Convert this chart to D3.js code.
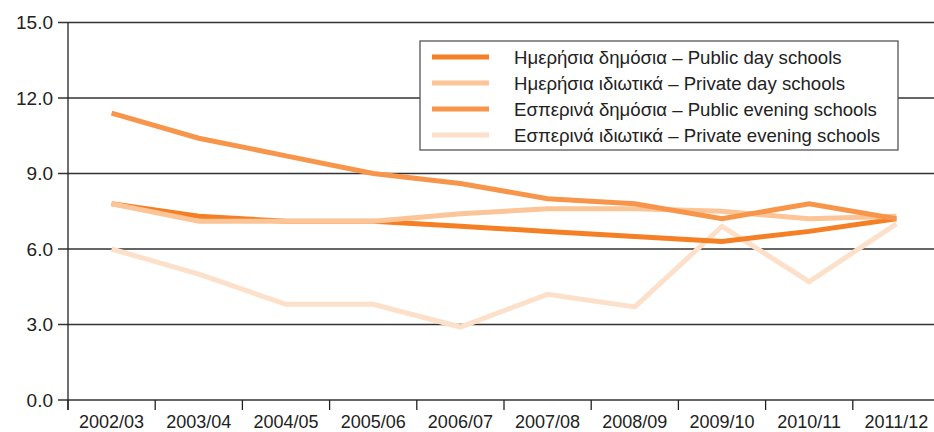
<!DOCTYPE html>
<html>
<head>
<meta charset="utf-8">
<script src="https://cdn.jsdelivr.net/npm/d3@7"></script>
<style>
  body { margin: 0; background: #fff; }
  svg text { font-family: "Liberation Sans", Arial, Helvetica, sans-serif; fill: #222; }
</style>
</head>
<body>
<div id="chart"></div>
<script>
const years = ["2002/03", "2003/04", "2004/05", "2005/06", "2006/07", "2007/08", "2008/09", "2009/10", "2010/11", "2011/12"];
const yTicks = [0, 3, 6, 9, 12, 15];

const publicDay = [7.8, 7.3, 7.1, 7.1, 6.9, 6.7, 6.5, 6.3, 6.7, 7.2];
const privateDay = [7.8, 7.1, 7.1, 7.1, 7.4, 7.6, 7.6, 7.5, 7.2, 7.3];
const publicEvening = [11.4, 10.4, 9.7, 9.0, 8.6, 8.0, 7.8, 7.2, 7.8, 7.2];
const privateEvening = [6.0, 5.0, 3.8, 3.8, 2.9, 4.2, 3.7, 6.9, 4.7, 7.0];

const seriesNames = [
  "Ημερήσια δημόσια – Public day schools",
  "Ημερήσια ιδιωτικά – Private day schools",
  "Εσπερινά δημόσια – Public evening schools",
  "Εσπερινά ιδιωτικά – Private evening schools"
];
const seriesColors = ["#f47f24", "#fbc597", "#f7954a", "#fde0c9"];

const width = 934, height = 432;
const margin = {top: 22.5, right: -6, bottom: 32, left: 68};

const svg = d3.select("#chart").append("svg")
  .attr("width", width)
  .attr("height", height);

const x = d3.scaleBand()
  .domain(years)
  .range([margin.left, width - margin.right]);

const y = d3.scaleLinear()
  .domain([0, 15])
  .range([height - margin.bottom, margin.top]);

// gridlines + y ticks
svg.append("g")
  .selectAll("line")
  .data(yTicks)
  .enter()
  .append("line")
  .attr("x1", margin.left - 10)
  .attr("x2", width)
  .attr("y1", d => y(d))
  .attr("y2", d => y(d))
  .attr("stroke", "#333")
  .attr("stroke-width", 1.3);

svg.append("g")
  .selectAll("text")
  .data(yTicks)
  .enter()
  .append("text")
  .attr("x", margin.left - 15)
  .attr("y", d => y(d))
  .attr("dy", "0.35em")
  .attr("text-anchor", "end")
  .style("font-size", "19px")
  .text(d => d.toFixed(1));

// y axis line
svg.append("line")
  .attr("x1", margin.left).attr("x2", margin.left)
  .attr("y1", y(15)).attr("y2", y(0) + 10)
  .attr("stroke", "#222")
  .attr("stroke-width", 1.3);

// x ticks at band edges
svg.append("g")
  .selectAll("line")
  .data(years)
  .enter()
  .append("line")
  .attr("x1", d => x(d)).attr("x2", d => x(d))
  .attr("y1", y(0)).attr("y2", y(0) + 10)
  .attr("stroke", "#222")
  .attr("stroke-width", 1.3);

svg.append("g")
  .selectAll("text")
  .data(years)
  .enter()
  .append("text")
  .attr("x", d => x(d) + x.bandwidth() / 2)
  .attr("y", y(0) + 28)
  .attr("text-anchor", "middle")
  .style("font-size", "18px")
  .text(d => d);

// lines
const allSeries = [publicDay, privateDay, publicEvening, privateEvening];
const drawOrder = [3, 0, 1, 2];

const line = d3.line()
  .x((d, i) => x(years[i]) + x.bandwidth() / 2)
  .y(d => y(d));

svg.append("g")
  .selectAll("path")
  .data(drawOrder)
  .enter()
  .append("path")
  .attr("d", k => line(allSeries[k]))
  .attr("fill", "none")
  .attr("stroke", k => seriesColors[k])
  .attr("stroke-width", 5);

// legend
const legend = svg.append("g").attr("transform", "translate(420,41)");
legend.append("rect")
  .attr("width", 478)
  .attr("height", 109)
  .attr("fill", "#fff")
  .attr("stroke", "#555")
  .attr("stroke-width", 1.3);

const item = legend.selectAll(".item")
  .data(seriesNames)
  .enter()
  .append("g")
  .attr("class", "item")
  .attr("transform", (d, i) => "translate(0," + (16 + i * 26) + ")");

item.append("line")
  .attr("x1", 12).attr("x2", 69)
  .attr("stroke", (d, i) => seriesColors[i])
  .attr("stroke-width", 5);

item.append("text")
  .attr("x", 94)
  .attr("dy", "0.35em")
  .style("font-size", "18.6px")
  .text(d => d);
</script>
</body>
</html>
